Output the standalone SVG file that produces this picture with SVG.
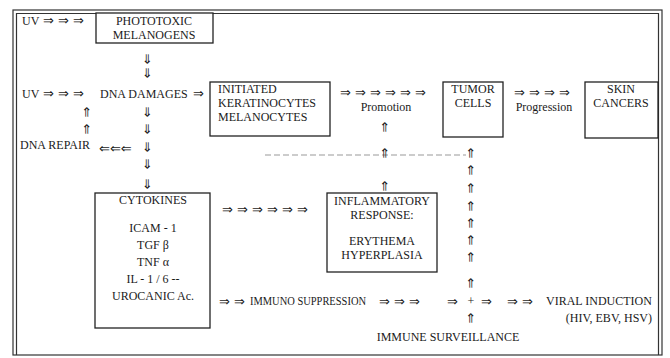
<svg xmlns="http://www.w3.org/2000/svg" xmlns:xlink="http://www.w3.org/1999/xlink" width="670" height="358" viewBox="0 0 670 358">
<style>
text{font-family:"Liberation Serif","DejaVu Serif",serif;font-size:12px;fill:#1a1a1a}
.c{text-anchor:middle}
.r{text-anchor:end}
.a{font-family:"DejaVu Sans",sans-serif;font-size:13px;fill:#1a1a1a}
.box{fill:#fff;stroke:#222;stroke-width:1.3}
.frame{fill:none;stroke:#333;stroke-width:1.2}
</style>
<defs>
<text id="ad" class="a c" x="0" y="4" transform="rotate(90)">⇒</text>
<text id="au" class="a c" x="0" y="4" transform="rotate(-90)">⇒</text>
</defs>
<rect width="670" height="358" fill="#fff"/>
<g id="frame">
<rect class="frame" x="13" y="10" width="649" height="345"/>
<line class="frame" x1="16.5" y1="13" x2="16.5" y2="355"/>
<line class="frame" x1="16" y1="13.5" x2="659" y2="13.5"/>
<line class="frame" x1="658.5" y1="13" x2="658.5" y2="355"/>
</g>
<g id="uv1"><text x="22" y="25">UV</text></g>
<g id="phototoxic">
<rect class="box" x="96" y="13" width="117" height="30"/>
<text class="c" x="154" y="25">PHOTOTOXIC</text>
<text class="c" x="154" y="39">MELANOGENS</text>
</g>
<g id="uv2"><text x="22" y="98">UV</text></g>
<g id="dna-damages"><text x="100" y="98">DNA DAMAGES</text></g>
<g id="dna-repair"><text x="20" y="149">DNA REPAIR</text></g>
<g id="initiated">
<rect class="box" x="210" y="82" width="120" height="54"/>
<text x="218" y="93">INITIATED</text>
<text x="218" y="107">KERATINOCYTES</text>
<text x="218" y="121">MELANOCYTES</text>
</g>
<g id="tumor">
<rect class="box" x="443" y="82" width="60" height="55"/>
<text class="c" x="473" y="93">TUMOR</text>
<text class="c" x="473" y="107">CELLS</text>
</g>
<g id="skin">
<rect class="box" x="585" y="82" width="73" height="56"/>
<text class="c" x="621" y="93">SKIN</text>
<text class="c" x="621" y="107">CANCERS</text>
</g>
<g id="cytokines">
<rect class="box" x="95" y="193" width="115" height="135"/>
<text class="c" x="153" y="204">CYTOKINES</text>
<text class="c" x="153" y="232">ICAM - 1</text>
<text class="c" x="153" y="249">TGF β</text>
<text class="c" x="153" y="266">TNF α</text>
<text class="c" x="153" y="283">IL - 1 / 6  --</text>
<text class="c" x="153" y="300">UROCANIC Ac.</text>
</g>
<g id="inflammatory">
<rect class="box" x="327" y="193" width="110" height="79"/>
<text class="c" x="382" y="205">INFLAMMATORY</text>
<text class="c" x="382" y="219">RESPONSE:</text>
<text class="c" x="382" y="245">ERYTHEMA</text>
<text class="c" x="382" y="259">HYPERPLASIA</text>
</g>
<g id="immuno"><text x="250" y="305" textLength="116" lengthAdjust="spacingAndGlyphs">IMMUNO SUPPRESSION</text></g>
<g id="plus"><text class="c" x="471" y="305">+</text></g>
<g id="viral">
<text x="546" y="305">VIRAL INDUCTION</text>
<text class="r" x="652" y="322">(HIV,  EBV,  HSV)</text>
</g>
<g id="surveillance"><text class="c" x="448" y="341">IMMUNE SURVEILLANCE</text></g>
<g id="labels">
<text class="c" x="386" y="111">Promotion</text>
<text class="c" x="544" y="111">Progression</text>
</g>
<g id="connectors">
<line x1="265" y1="155" x2="466" y2="155" stroke="#999" stroke-width="1" stroke-dasharray="6 3"/>
<text class="a" x="43" y="25">⇒ ⇒  ⇒</text>
<text class="a" x="43" y="98">⇒ ⇒  ⇒</text>
<text class="a" x="193" y="98">⇒</text>
<text class="a" x="340" y="97">⇒ ⇒ ⇒ ⇒  ⇒ ⇒</text>
<text class="a" x="514" y="97">⇒ ⇒ ⇒ ⇒</text>
<text class="a" x="222" y="214">⇒ ⇒ ⇒ ⇒ ⇒ ⇒</text>
<text class="a" x="219" y="306">⇒ ⇒</text>
<text class="a" x="379" y="306">⇒ ⇒  ⇒</text>
<text class="a" x="447" y="306">⇒</text>
<text class="a" x="481" y="306">⇒</text>
<text class="a" x="507" y="306">⇒ ⇒</text>
<text class="a" x="99" y="153">⇐⇐⇐</text>
<use xlink:href="#ad" x="147" y="59"/>
<use xlink:href="#ad" x="147" y="73"/>
<use xlink:href="#ad" x="147" y="112"/>
<use xlink:href="#ad" x="147" y="129"/>
<use xlink:href="#ad" x="147" y="147"/>
<use xlink:href="#ad" x="147" y="164"/>
<use xlink:href="#ad" x="147" y="184"/>
<use xlink:href="#au" x="87" y="112"/>
<use xlink:href="#au" x="87" y="129"/>
<use xlink:href="#au" x="385" y="127"/>
<use xlink:href="#au" x="385" y="153"/>
<use xlink:href="#au" x="385" y="186"/>
<use xlink:href="#au" x="471" y="153"/>
<use xlink:href="#au" x="471" y="170"/>
<use xlink:href="#au" x="471" y="188"/>
<use xlink:href="#au" x="471" y="206"/>
<use xlink:href="#au" x="471" y="223"/>
<use xlink:href="#au" x="471" y="240"/>
<use xlink:href="#au" x="471" y="257"/>
<use xlink:href="#au" x="471" y="283"/>
<use xlink:href="#au" x="471" y="318"/>
</g>
</svg>
